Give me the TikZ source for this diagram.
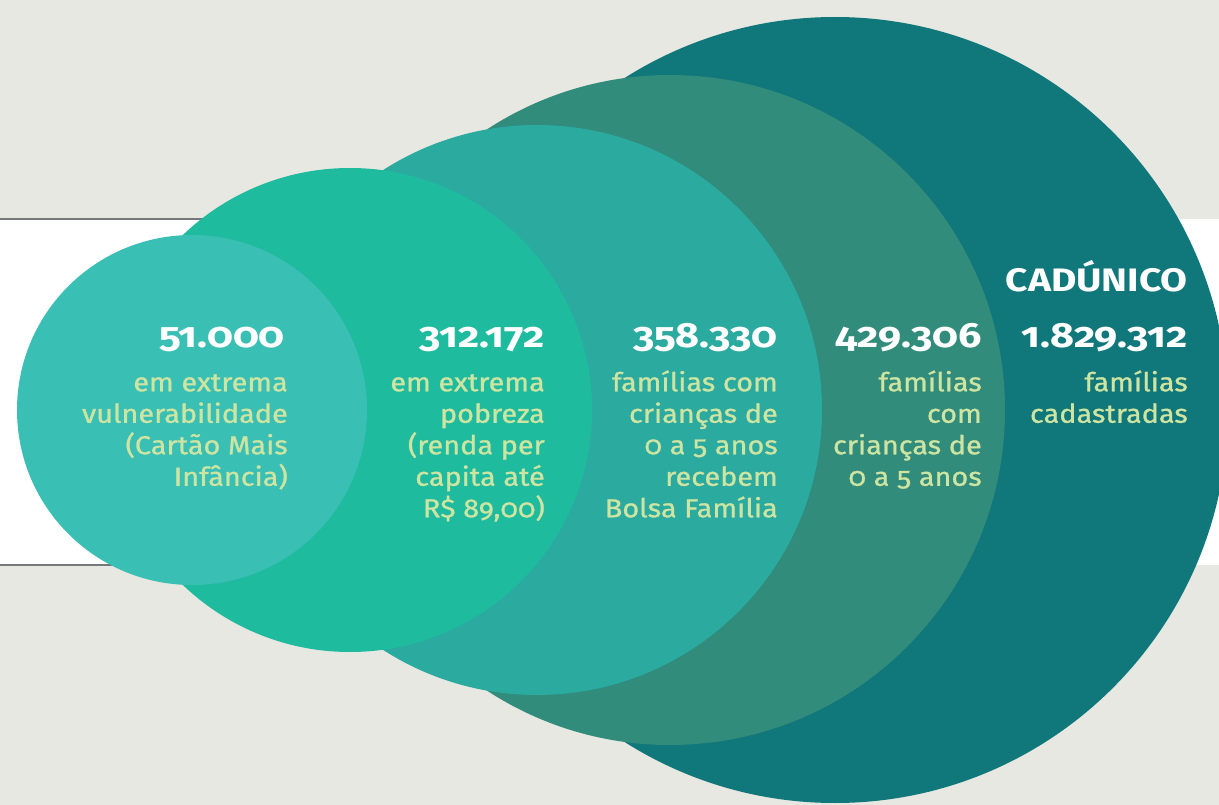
\documentclass[tikz,border=0pt]{standalone}
\usepackage{fontspec}
\setmainfont{Fira Sans}[Numbers=OldStyle]
\newfontfamily\numfont{Fira Sans}[Numbers=OldStyle,FakeStretch=1.18]
\newfontfamily\headfont{Fira Sans}[FakeStretch=1.2]
\newfontfamily\descfont{Fira Sans}[Numbers=OldStyle,FakeStretch=1.11,FakeBold=1.0]
\definecolor{bgc}{RGB}{231,232,225}
\definecolor{linec}{RGB}{117,120,122}
\definecolor{cA}{RGB}{16,119,122}
\definecolor{cB}{RGB}{49,140,123}
\definecolor{cC}{RGB}{43,170,160}
\definecolor{cD}{RGB}{31,187,158}
\definecolor{cE}{RGB}{58,191,180}
\definecolor{desc}{RGB}{205,228,162}
\tikzset{
  num/.style={anchor=base east, inner sep=0pt, text=white, font=\numfont\bfseries\fontsize{35}{35}\selectfont},
  head/.style={anchor=base east, inner sep=0pt, text=white, font=\headfont\bfseries\fontsize{32.5}{32.5}\selectfont},
  dtext/.style={anchor=north east, inner sep=0pt, align=right, text=desc, font=\descfont\fontsize{26}{31.5}\selectfont},
}
\begin{document}
\begin{tikzpicture}[x=1pt,y=-1pt]
\useasboundingbox (0,0) rectangle (1219,805);
\fill[bgc] (0,0) rectangle (1219,805);
\fill[white] (0,219) rectangle (1219,565);
\draw[linec, line width=2pt] (0,219) -- (620,219);
\draw[linec, line width=2pt] (0,565) -- (620,565);
\fill[cA] (835,410) circle (393pt);
\fill[cB] (670,410) circle (335pt);
\fill[cC] (537,410) circle (285pt);
\fill[cD] (350,410) circle (242pt);
\fill[cE] (192,410) circle (175pt);

\node[num] (n1) at (285,347) {51.000};
\node[dtext] (d1) at (288,369) {\strut em extrema\\vulnerabilidade\\(Cartão Mais\\Infância)};

\node[num] (n2) at (545,347) {312.172};
\node[dtext] (d2) at (545,369) {\strut em extrema\\pobreza\\(renda per\\capita até\\R\$ 89,00)};

\node[num] (n3) at (778,347) {358.330};
\node[dtext] (d3) at (778,369) {\strut famílias com\\crianças de\\0 a 5 anos\\recebem\\Bolsa Família};

\node[num] (n4) at (982,347) {429.306};
\node[dtext] (d4) at (982,369) {\strut famílias\\com\\crianças de\\0 a 5 anos};

\node[head] (h5) at (1188,292) {CADÚNICO};
\node[num] (n5) at (1188,347) {1.829.312};
\node[dtext] (d5) at (1188,369) {\strut famílias\\cadastradas};
\end{tikzpicture}
\end{document}
